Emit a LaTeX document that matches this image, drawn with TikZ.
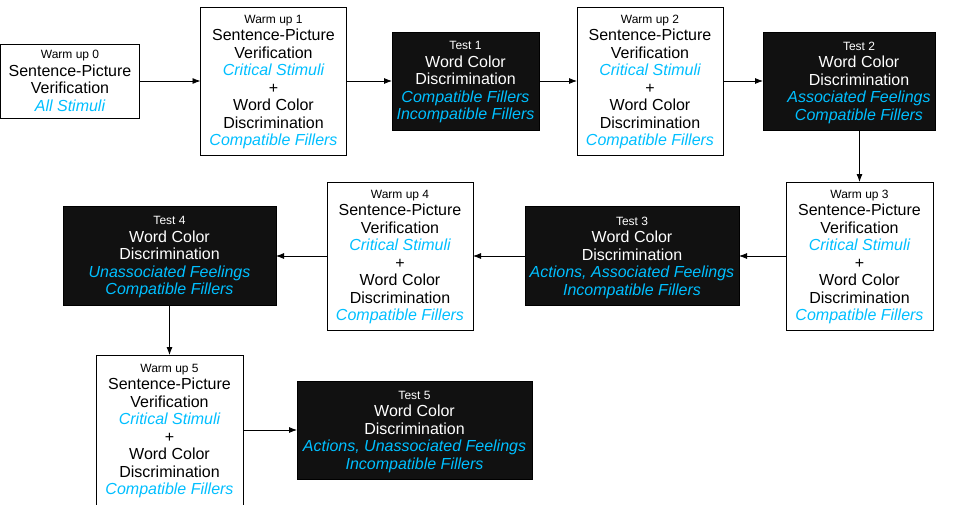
\documentclass[tikz,border=0pt]{standalone}
\usepackage{fontspec}
\setmainfont{Liberation Sans}
\usetikzlibrary{arrows.meta}
\definecolor{cy}{RGB}{0,191,255}
\definecolor{dk}{RGB}{17,17,17}
\newcommand\smtxt[1]{{\fontsize{12}{17.5}\selectfont #1}}
\newcommand\cyit[1]{\textcolor{cy}{\itshape #1}}
\tikzset{
  x=1pt, y=-1pt,
  wbox/.style={draw=black, fill=white, line width=0.8pt, inner sep=0pt, outer sep=0pt},
  tbox/.style={draw=black, fill=dk, line width=0.8pt, inner sep=0pt, outer sep=0pt},
  txt/.style={align=center, font=\fontsize{16}{17.5}\selectfont, inner sep=0pt, text=black},
  ttxt/.style={txt, text=white},
  arr/.style={-{Latex[length=8pt,width=6pt]}, line width=0.8pt, draw=black}
}
\begin{document}
\begin{tikzpicture}
\useasboundingbox[fill=white] (0,0) rectangle (960,504);
% boxes
\node[wbox, minimum width=139pt, minimum height=74pt] (w0) at (70,81) {};
\node[wbox, minimum width=146pt, minimum height=148pt] (w1) at (273.5,81) {};
\node[tbox, minimum width=147pt, minimum height=98pt] (t1) at (465.5,81) {};
\node[wbox, minimum width=146pt, minimum height=148pt] (w2) at (650,81) {};
\node[tbox, minimum width=172pt, minimum height=98pt] (t2) at (849,81) {};
\node[wbox, minimum width=147pt, minimum height=148pt] (w3) at (859.5,256) {};
\node[tbox, minimum width=214pt, minimum height=99pt] (t3) at (632,256) {};
\node[wbox, minimum width=146pt, minimum height=148pt] (w4) at (400,256) {};
\node[tbox, minimum width=213pt, minimum height=99pt] (t4) at (169.5,256) {};
\node[wbox, minimum width=147pt, minimum height=150pt] (w5) at (169.5,430) {};
\node[tbox, minimum width=235pt, minimum height=98pt] (t5) at (414.5,430) {};
% texts
\node[txt] (w0l) at (70,81) {\smtxt{Warm up 0}\\Sentence-Picture\\Verification\\\cyit{All Stimuli}};
\node[txt] (w1l) at (273.5,82) {\smtxt{Warm up 1}\\Sentence-Picture\\Verification\\\cyit{Critical Stimuli}\\+\\Word Color\\Discrimination\\\cyit{Compatible Fillers}};
\node[ttxt] (t1l) at (465.5,82.5) {\smtxt{Test 1}\\Word Color\\Discrimination\\\cyit{Compatible Fillers}\\\cyit{Incompatible Fillers}};
\node[txt] (w2l) at (650,82) {\smtxt{Warm up 2}\\Sentence-Picture\\Verification\\\cyit{Critical Stimuli}\\+\\Word Color\\Discrimination\\\cyit{Compatible Fillers}};
\node[ttxt] (t2l) at (859,82.5) {\smtxt{Test 2}\\Word Color\\Discrimination\\\cyit{Associated Feelings}\\\cyit{Compatible Fillers}};
\node[txt] (w3l) at (859.5,257) {\smtxt{Warm up 3}\\Sentence-Picture\\Verification\\\cyit{Critical Stimuli}\\+\\Word Color\\Discrimination\\\cyit{Compatible Fillers}};
\node[ttxt] (t3l) at (632,257.5) {\smtxt{Test 3}\\Word Color\\Discrimination\\\cyit{Actions, Associated Feelings}\\\cyit{Incompatible Fillers}};
\node[txt] (w4l) at (400,257) {\smtxt{Warm up 4}\\Sentence-Picture\\Verification\\\cyit{Critical Stimuli}\\+\\Word Color\\Discrimination\\\cyit{Compatible Fillers}};
\node[ttxt] (t4l) at (169.5,257.5) {\smtxt{Test 4}\\Word Color\\Discrimination\\\cyit{Unassociated Feelings}\\\cyit{Compatible Fillers}};
\node[txt] (w5l) at (169.5,431) {\smtxt{Warm up 5}\\Sentence-Picture\\Verification\\\cyit{Critical Stimuli}\\+\\Word Color\\Discrimination\\\cyit{Compatible Fillers}};
\node[ttxt] (t5l) at (414.5,432) {\smtxt{Test 5}\\Word Color\\Discrimination\\\cyit{Actions, Unassociated Feelings}\\\cyit{Incompatible Fillers}};
% connectors
\draw[arr] (w0.east) -- (w1.west);
\draw[arr] (w1.east) -- (t1.west);
\draw[arr] (t1.east) -- (w2.west);
\draw[arr] (w2.east) -- (t2.west);
\draw[arr] (t2.south -| w3.north) -- (w3.north);
\draw[arr] (w3.west) -- (t3.east);
\draw[arr] (t3.west) -- (w4.east);
\draw[arr] (w4.west) -- (t4.east);
\draw[arr] (t4.south) -- (w5.north);
\draw[arr] (w5.east) -- (t5.west);
\end{tikzpicture}
\end{document}
